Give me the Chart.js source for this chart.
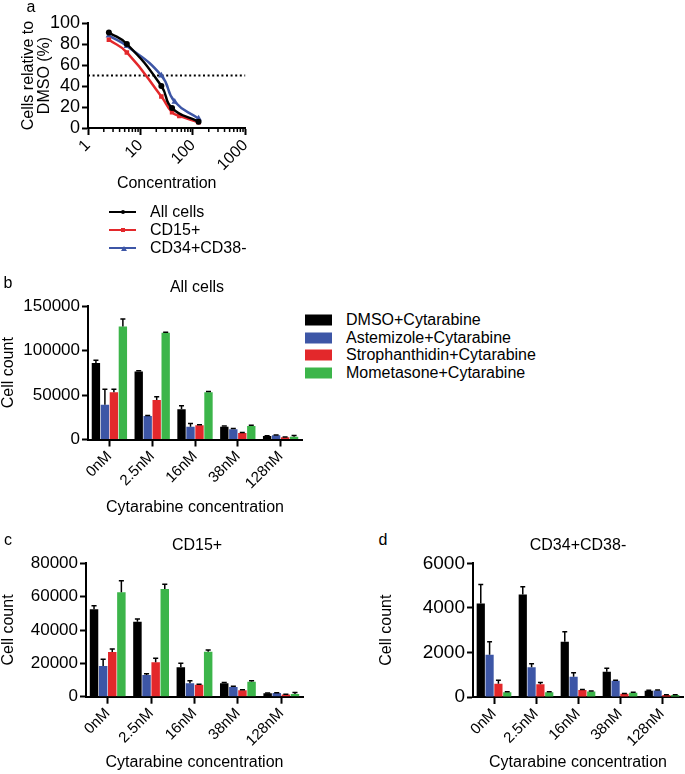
<!DOCTYPE html>
<html><head><meta charset="utf-8">
<script src="https://cdn.jsdelivr.net/npm/chart.js@4.4.1/dist/chart.umd.min.js"></script>
<style>
body{margin:0;background:#fff;width:685px;height:774px;overflow:hidden;position:relative;font-family:"Liberation Sans",Arial,Helvetica,sans-serif;color:#000}
canvas{position:absolute}
.t{position:absolute;font-size:16px;line-height:16px;white-space:nowrap}
.c{transform:translate(-50%,-50%)}
.l{transform:translateY(-50%)}
.ln{position:absolute;height:2px;width:27px;transform:translateY(-50%)}
.mk{position:absolute;left:11.5px;top:-1.5px;width:4px;height:4px}
.sw{position:absolute;width:27px;height:11px;transform:translateY(-50%)}
</style></head><body>

<canvas id="ca" width="260" height="197" style="left:0;top:0"></canvas>
<canvas id="cb" width="305" height="231" style="left:0;top:290px"></canvas>
<canvas id="cc" width="306" height="226" style="left:0;top:548px"></canvas>
<canvas id="cd" width="325" height="226" style="left:360px;top:548px"></canvas>

<div class="t c" style="left:31px;top:7px">a</div>
<div class="t c" style="left:8px;top:283px">b</div>
<div class="t c" style="left:8px;top:540px">c</div>
<div class="t c" style="left:383px;top:540px">d</div>

<div class="t c" style="left:197px;top:287px">All cells</div>
<div class="t c" style="left:197px;top:545px">CD15+</div>
<div class="t c" style="left:578px;top:545px">CD34+CD38-</div>

<div id="legA"></div>
<div id="legB"></div>

<script>
// ---------- Panel a data ----------
const concAll = [2.5, 5.5, 25, 40, 128];
const pctAll = [91, 80, 40, 19, 6];
const concCD15 = [2.5, 5.5, 25, 40, 55, 128];
const pctCD15 = [84, 72, 30, 15, 11.5, 5.5];
const concCD34 = [2.5, 5.5, 25, 45, 128];
const pctCD34 = [88, 78, 50, 25, 9];
const halfConc = [1, 1000];
const halfPct = [50, 50];
const concTicks = [1, 10, 100, 1000];
const pctTicksMax = 100;
const lineNames = ['All cells', 'CD15+', 'CD34+CD38-'];

// ---------- Bar panels data ----------
const doseLabels = ['0nM', '2.5nM', '16nM', '38nM', '128nM'];
const treatNames = ['DMSO+Cytarabine', 'Astemizole+Cytarabine', 'Strophanthidin+Cytarabine', 'Mometasone+Cytarabine'];

// b: All cells
const allDMSO = [86000, 76500, 34000, 14400, 4000];
const allDMSOErr = [3000, 800, 4000, 700, 300];
const allAst = [39000, 26500, 14400, 11500, 4700];
const allAstErr = [17500, 600, 3500, 900, 300];
const allStr = [53000, 44500, 16000, 7300, 2500];
const allStrErr = [3500, 3500, 600, 600, 200];
const allMom = [127000, 120000, 53000, 15200, 3200];
const allMomErr = [8500, 600, 1000, 700, 1300];

// c: CD15+
const cd15DMSO = [52400, 45000, 17600, 8000, 2000];
const cd15DMSOErr = [2200, 1600, 2400, 500, 200];
const cd15Ast = [18400, 13000, 8000, 5800, 2200];
const cd15AstErr = [4000, 700, 1600, 400, 200];
const cd15Str = [26800, 20600, 7200, 3800, 1300];
const cd15StrErr = [1800, 2400, 300, 300, 100];
const cd15Mom = [62600, 64600, 27000, 9000, 1600];
const cd15MomErr = [7000, 2800, 1000, 500, 900];

// d: CD34+CD38-
const cd34DMSO = [4200, 4600, 2480, 1135, 280];
const cd34DMSOErr = [850, 350, 450, 150, 20];
const cd34Ast = [1900, 1330, 910, 730, 290];
const cd34AstErr = [580, 160, 180, 20, 20];
const cd34Str = [600, 570, 314, 150, 90];
const cd34StrErr = [150, 80, 20, 10, 10];
const cd34Mom = [210, 210, 250, 190, 90];
const cd34MomErr = [20, 20, 20, 20, 10];

const yMaxB = 150000, yStepB = 50000;
const yMaxC = 80000, yStepC = 20000;
const yMaxD = 6000, yStepD = 2000;

// ---------- styles ----------
const BLACK = '#000000', BLUE = '#3d56a6', RED = '#e3282b', GREEN = '#3cb54a';
const barColors = [BLACK, BLUE, RED, GREEN];
const lineColors = [BLACK, RED, BLUE];
const FONT = '"Liberation Sans", Arial, Helvetica, sans-serif';
Chart.defaults.font.family = FONT;
Chart.defaults.color = '#000';

const errorBars = {
  id: 'errorBars',
  afterDatasetsDraw(chart) {
    const ctx = chart.ctx, ys = chart.scales.y;
    chart.data.datasets.forEach((ds, i) => {
      if (!ds.errors) return;
      chart.getDatasetMeta(i).data.forEach((bar, j) => {
        const top = ys.getPixelForValue(ds.data[j] + ds.errors[j]);
        const half = bar.width * 0.3;
        ctx.save();
        ctx.strokeStyle = '#000'; ctx.lineWidth = 1.5;
        ctx.beginPath();
        ctx.moveTo(bar.x, bar.y); ctx.lineTo(bar.x, top);
        ctx.moveTo(bar.x - half, top); ctx.lineTo(bar.x + half, top);
        ctx.stroke(); ctx.restore();
      });
    });
  }
};

const minorLogTicks = {
  id: 'minorLogTicks',
  afterDraw(chart) {
    const xs = chart.scales.x, ctx = chart.ctx;
    ctx.save(); ctx.strokeStyle = '#000'; ctx.lineWidth = 1.5;
    ctx.beginPath();
    for (let d = 1; d < 1000; d *= 10) {
      for (let k = 2; k <= 9; k++) {
        const px = xs.getPixelForValue(k * d);
        ctx.moveTo(px, xs.top); ctx.lineTo(px, xs.top + 4);
      }
    }
    ctx.stroke(); ctx.restore();
  }
};

function pts(xs, ys) { return xs.map((x, i) => ({x: x, y: ys[i]})); }

function curve(label, xs, ys, color, style, r) {
  return {label: label, data: pts(xs, ys), showLine: true, borderColor: color, backgroundColor: color,
          borderWidth: 2.5, pointStyle: style, pointRadius: r, pointBorderWidth: 0, tension: 0.5};
}

// ---------- Panel a ----------
new Chart(document.getElementById('ca'), {
  type: 'scatter',
  data: {
    datasets: [
      curve(lineNames[0], concAll, pctAll, BLACK, 'circle', 3),
      curve(lineNames[1], concCD15, pctCD15, RED, 'rect', 3.2),
      curve(lineNames[2], concCD34, pctCD34, BLUE, 'triangle', 3.8),
      {label: '50%', data: pts(halfConc, halfPct), showLine: true, borderColor: BLACK, borderWidth: 2,
       borderDash: [2, 2.6], pointRadius: 0}
    ]
  },
  options: {
    responsive: false, animation: false,
    layout: {padding: {top: 23, right: 12, left: 0, bottom: 0}},
    plugins: {legend: {display: false}, tooltip: {enabled: false}},
    scales: {
      x: {
        type: 'logarithmic', min: 1, max: 1000, offset: false,
        afterBuildTicks: s => { s.ticks = concTicks.map(v => ({value: v, major: true})); },
        afterFit: s => { s.height = 69; },
        ticks: {font: {size: 16}, minRotation: 45, maxRotation: 45, autoSkip: false, padding: 1,
                callback: v => String(v)},
        grid: {display: true, drawOnChartArea: false, tickLength: 7, tickWidth: 2, tickColor: '#000'},
        border: {color: '#000', width: 2},
        title: {display: true, text: 'Concentration', font: {size: 16, lineHeight: 1.2}, padding: {top: 0, bottom: 4}}
      },
      y: {
        min: 0, max: pctTicksMax,
        afterFit: s => { s.width = 88; },
        ticks: {stepSize: 20, autoSkip: false, font: {size: 18, lineHeight: 1.0}, padding: 2, callback: v => String(v)},
        grid: {display: true, drawOnChartArea: false, tickLength: 6, tickWidth: 2, tickColor: '#000'},
        border: {color: '#000', width: 2},
        title: {display: true, text: ['Cells relative to', 'DMSO (%)'], font: {size: 16, lineHeight: 1.0}, padding: {top: 21, bottom: 0}}
      }
    }
  },
  plugins: [minorLogTicks]
});

// ---------- Bar panels ----------
function barPanel(id, vals, errs, yMax, yStep, yWidth, xHeight, pad, yTickSize, yTitlePad, xTitleBottom) {
  new Chart(document.getElementById(id), {
    type: 'bar',
    data: {
      labels: doseLabels,
      datasets: treatNames.map((n, i) => ({
        label: n, data: vals[i], errors: errs[i], backgroundColor: barColors[i], borderWidth: 0,
        categoryPercentage: 0.84, barPercentage: 0.93
      }))
    },
    options: {
      responsive: false, animation: false,
      layout: {padding: pad},
      plugins: {legend: {display: false}, tooltip: {enabled: false}},
      scales: {
        x: {
          type: 'category', offset: true,
          afterFit: s => { s.height = xHeight; },
          ticks: {font: {size: 15}, minRotation: 45, maxRotation: 45, autoSkip: false, padding: 1},
          grid: {display: true, offset: false, drawOnChartArea: false, tickLength: 7, tickWidth: 2, tickColor: '#000'},
          border: {color: '#000', width: 2},
          title: {display: true, text: 'Cytarabine concentration', font: {size: 16, lineHeight: 1.2}, padding: {top: 0, bottom: xTitleBottom}}
        },
        y: {
          min: 0, max: yMax,
          afterFit: s => { s.width = yWidth; },
          ticks: {stepSize: yStep, autoSkip: false, font: {size: yTickSize}, padding: 2, callback: v => String(v)},
          grid: {display: true, drawOnChartArea: false, tickLength: 6, tickWidth: 2, tickColor: '#000'},
          border: {color: '#000', width: 2},
          title: {display: true, text: 'Cell count', font: {size: 16, lineHeight: 1.0}, padding: {top: yTitlePad, bottom: 0}}
        }
      }
    },
    plugins: [errorBars]
  });
}

barPanel('cb', [allDMSO, allAst, allStr, allMom], [allDMSOErr, allAstErr, allStrErr, allMomErr],
         yMaxB, yStepB, 88, 81.5, {top: 16, right: 3, left: 0, bottom: 0}, 17, 0.5, 4);
barPanel('cc', [cd15DMSO, cd15Ast, cd15Str, cd15Mom], [cd15DMSOErr, cd15AstErr, cd15StrErr, cd15MomErr],
         yMaxC, yStepC, 86, 77.3, {top: 15.3, right: 3, left: 0, bottom: 0}, 17, 0.5, 2);
barPanel('cd', [cd34DMSO, cd34Ast, cd34Str, cd34Mom], [cd34DMSOErr, cd34AstErr, cd34StrErr, cd34MomErr],
         yMaxD, yStepD, 113, 77, {top: 15.3, right: 2, left: 0, bottom: 0}, 19, 19, 2);

// ---------- HTML legends ----------
const legA = document.getElementById('legA');
const markShapes = ['border-radius:50%', '', 'width:0;height:0;background:none;border-left:3px solid transparent;border-right:3px solid transparent;border-bottom:5px solid ' + BLUE];
lineNames.forEach((n, i) => {
  const y = 212 + i * 18;
  const ln = document.createElement('div');
  ln.className = 'ln'; ln.style.left = '109px'; ln.style.top = y + 'px'; ln.style.background = lineColors[i];
  const mk = document.createElement('div');
  mk.className = 'mk'; mk.style.cssText += 'background:' + lineColors[i] + ';' + markShapes[i];
  ln.appendChild(mk);
  legA.appendChild(ln);
  const t = document.createElement('div');
  t.className = 't l'; t.style.left = '150px'; t.style.top = y + 'px'; t.textContent = n;
  legA.appendChild(t);
});
const legB = document.getElementById('legB');
treatNames.forEach((n, i) => {
  const y = 320 + i * 17.5;
  const sw = document.createElement('div');
  sw.className = 'sw'; sw.style.left = '305px'; sw.style.top = y + 'px'; sw.style.background = barColors[i];
  legB.appendChild(sw);
  const t = document.createElement('div');
  t.className = 't l'; t.style.left = '346px'; t.style.top = y + 'px'; t.textContent = n;
  legB.appendChild(t);
});
</script>
</body></html>
